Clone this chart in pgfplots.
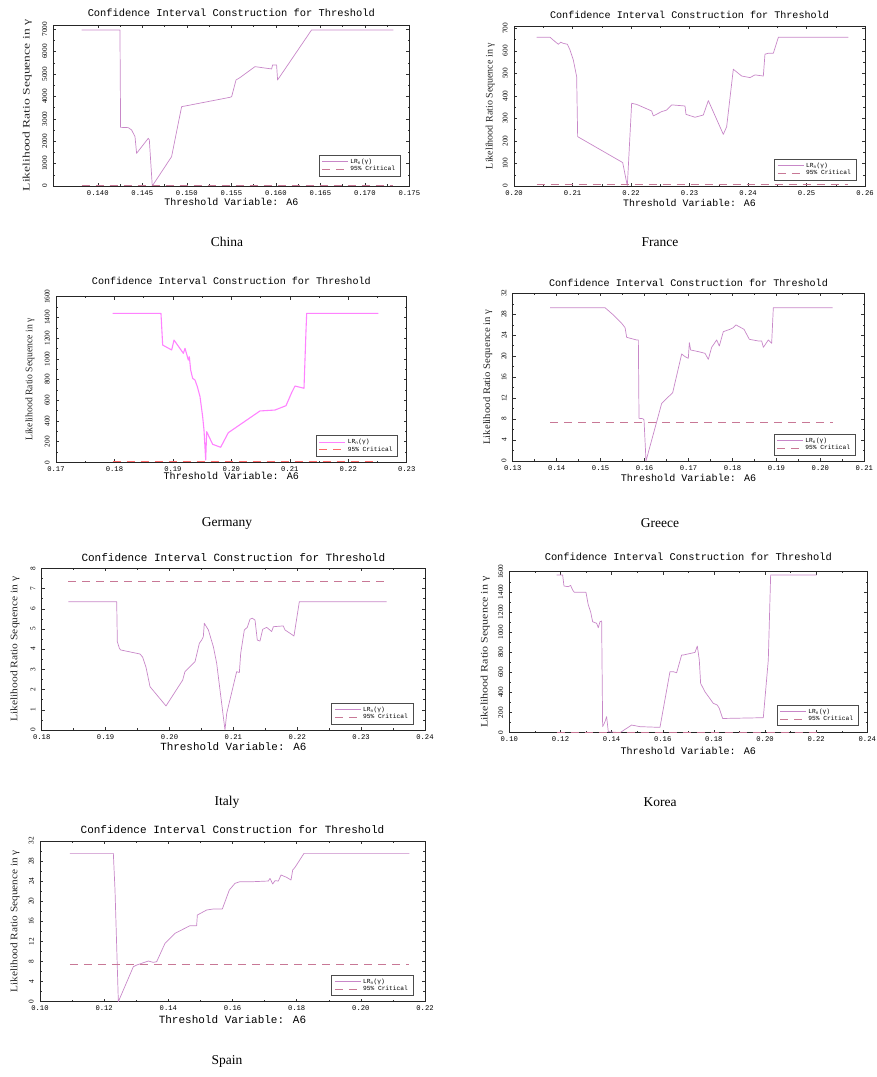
\documentclass[border=0pt]{standalone}
\usepackage{fontspec}
\setmainfont{Liberation Serif}
\newfontfamily\mono{Liberation Mono}
\usepackage{graphicx}
\usepackage{pgfplots}
\pgfplotsset{compat=1.18}

\definecolor{lineC}{RGB}{200,135,200}
\definecolor{critC}{RGB}{200,120,150}
\definecolor{gline}{RGB}{255,130,255}
\definecolor{gcrit}{RGB}{255,105,105}

\newcommand\ttl[1]{\mono\fontsize{#1}{#1}\selectfont}
\newcommand\xtk{\mono\fontsize{7.2}{8}\selectfont}
\newcommand\ytk{\fontsize{7.3}{8}\selectfont}
\newcommand\lgf{\mono\fontsize{6.2}{6.5}\selectfont}
\newcommand\ylf{\fontsize{10}{12}\selectfont}
\newcommand\ylab[1]{\scalebox{#1}[1]{Likelihood Ratio Sequence in γ}}

\pgfplotsset{
  gauss/.style={
    scale only axis, anchor=south west,
    axis line style={line width=0.75pt, black!85},
    tick align=inside, xtick pos=both, ytick pos=both,
    major tick length=3pt, minor tick length=1.6pt, minor tick num=1,
    every tick/.append style={line width=0.45pt, black!80},
    scaled ticks=false,
    /pgf/number format/assume math mode=true,
    /pgf/number format/1000 sep={},
    title style={font=\ttl{10.2}, at={(0.5,1)}, anchor=center, yshift=5.5pt},
    xlabel style={font=\ttl{10.2}, at={(0.5,0)}, anchor=center, yshift=-17pt},
    ylabel style={font=\ylf, anchor=center, black!85},
    xticklabel style={font=\xtk, inner sep=1pt},
    xticklabel shift=3pt,
    yticklabel style={font=\ytk, rotate=90, anchor=south, inner sep=1pt},
    yticklabel shift=5pt,
    legend style={font=\lgf, at={(1,0)}, anchor=south east, xshift=-9pt, yshift=8pt,
      draw=black!70, line width=0.4pt, inner xsep=3pt, inner ysep=1.5pt, row sep=-2.5pt, fill=white,
      /tikz/every even column/.append style={column sep=6pt}},
    legend cell align=left,
    legend image code/.code={\draw[#1] (0pt,0pt) -- (26pt,0pt);},
    title={Confidence Interval Construction for Threshold},
    xlabel={Threshold Variable: A6},
    xticklabel={\pgfmathprintnumber[fixed,fixed zerofill,precision=2]{\tick}},
  },
  lr/.style={lineC, line width=0.7pt, line join=round},
  crit/.style={critC, line width=0.7pt, dash pattern=on 8pt off 6pt},
  glr/.style={gline, line width=1.1pt, line join=round},
  gcr/.style={gcrit, line width=1.1pt, dash pattern=on 8pt off 6pt},
}

\begin{document}
\begin{tikzpicture}
\useasboundingbox (0,0) rectangle (877pt,1077pt);

% ---------------- China
\begin{axis}[gauss, at={(53.3pt,891pt)}, width=356pt, height=161pt,
  xmin=0.135, xmax=0.175, ymin=0, ymax=7190,
  xtick={0.140,0.145,0.150,0.155,0.160,0.165,0.170,0.175},
  xticklabel={\pgfmathprintnumber[fixed,fixed zerofill,precision=3]{\tick}},
  ytick={0,1000,2000,3000,4000,5000,6000,7000},
  title style={font=\ttl{10.4}, yshift=0.3pt},
  xlabel style={font=\ttl{10}, yshift=1pt},
  ylabel={\ylab{1.36}},
  ylabel style={at={(axis description cs:-0.073,0.5)}},
  legend style={yshift=2pt}]
\addplot[lr] coordinates {(0.13818,6970)(0.14249,6970)(0.14256,2620)(0.14343,2606)(0.1438,2500)(0.14418,2204)(0.14436,1459)(0.14567,2129)(0.14579,2060)(0.14612,0)(0.14829,1310)(0.14923,3171)(0.14942,3544)(0.14979,3570)(0.15485,3960)(0.15504,3990)(0.15553,4735)(0.15597,4840)(0.15766,5330)(0.15953,5226)(0.15964,5405)(0.16009,5405)(0.1602,4735)(0.16402,6970)(0.1732,6970)};
\addlegendentry{LR\textsubscript{n}(γ)}
\addplot[crit] coordinates {(0.13818,7.35)(0.1732,7.35)};
\addlegendentry{95\% Critical}
\end{axis}

% ---------------- France
\begin{axis}[gauss, at={(514pt,891pt)}, width=351pt, height=160pt,
  xmin=0.20, xmax=0.26, ymin=0, ymax=710,
  xtick={0.20,0.21,0.22,0.23,0.24,0.25,0.26},
  ytick={0,100,200,300,400,500,600,700},
  title style={font=\ttl{10.1}},
  xlabel style={font=\ttl{9.9}},
  ylabel={\ylab{1.0}},
  ylabel style={at={(axis description cs:-0.068,0.5)}},
  legend style={yshift=-2pt}]
\addplot[lr] coordinates {(0.20387,660)(0.20615,660)(0.20701,641)(0.20758,629)(0.20798,638)(0.20843,633)(0.20912,629)(0.20957,604)(0.21014,559)(0.21071,485)(0.21088,219)(0.21858,104)(0.21937,0)(0.22011,367)(0.22097,362)(0.22353,333)(0.22382,311)(0.22524,330)(0.2261,337)(0.22695,360)(0.22923,355)(0.2294,318)(0.23094,305)(0.23236,315)(0.23322,379)(0.23578,229)(0.23635,263)(0.23749,518)(0.23892,488)(0.24034,481)(0.2412,493)(0.24262,488)(0.2429,585)(0.24348,589)(0.24433,589)(0.24519,660)(0.25715,660)};
\addlegendentry{LR\textsubscript{n}(γ)}
\addplot[crit] coordinates {(0.20387,7.35)(0.25715,7.35)};
\addlegendentry{95\% Critical}
\end{axis}

% ---------------- Germany
\begin{axis}[gauss, at={(56pt,614.7pt)}, width=350.7pt, height=165.6pt,
  xmin=0.17, xmax=0.23, ymin=0, ymax=1600,
  xtick={0.17,0.18,0.19,0.20,0.21,0.22,0.23},
  ytick={0,200,400,600,800,1000,1200,1400,1600},
  title style={font=\ttl{10.1}, yshift=4.4pt},
  xlabel style={font=\ttl{10.1}, yshift=3pt},
  ylabel={\ylab{0.97}},
  ylabel style={at={(axis description cs:-0.074,0.5)}},
  legend style={yshift=-2pt}]
\addplot[glr] coordinates {(0.1797,1439)(0.18796,1439)(0.18825,1133)(0.18979,1085)(0.19019,1181)(0.19179,1053)(0.19207,1101)(0.19264,988)(0.19281,1020)(0.19304,892)(0.19338,811)(0.19378,795)(0.19418,731)(0.19464,634)(0.19509,441)(0.19532,312)(0.19561,23)(0.19578,296)(0.1968,174)(0.19817,145)(0.19948,286)(0.2049,496)(0.20747,505)(0.20935,547)(0.21032,673)(0.21089,737)(0.21243,715)(0.21277,1268)(0.21289,1439)(0.22515,1439)};
\addlegendentry{LR\textsubscript{n}(γ)}
\addplot[gcr] coordinates {(0.1797,7.35)(0.22515,7.35)};
\addlegendentry{95\% Critical}
\end{axis}

% ---------------- Greece
\begin{axis}[gauss, at={(512.7pt,616pt)}, width=351.6pt, height=167.7pt,
  xmin=0.13, xmax=0.21, ymin=0, ymax=32,
  xtick={0.13,0.14,0.15,0.16,0.17,0.18,0.19,0.20,0.21},
  ytick={0,4,8,12,16,20,24,28,32},
  title style={font=\ttl{10.1}, yshift=-1.4pt},
  xlabel style={font=\ttl{10.1}},
  ylabel={\ylab{1.07}},
  ylabel style={at={(axis description cs:-0.071,0.5)}},
  legend style={yshift=-2pt}]
\addplot[lr] coordinates {(0.13849,29.26)(0.151,29.26)(0.1529,27.87)(0.1548,26.27)(0.15556,25.45)(0.15593,23.6)(0.15821,23.09)(0.15859,23.09)(0.15874,8.14)(0.15957,8.08)(0.15988,7.83)(0.16033,0)(0.1639,11.0)(0.1664,13.04)(0.16845,20.42)(0.16921,19.91)(0.16996,19.6)(0.17019,22.58)(0.17049,21.18)(0.17224,20.87)(0.17375,20.55)(0.17451,19.4)(0.17527,21.69)(0.17641,23.09)(0.17701,21.94)(0.17792,24.68)(0.17944,25.13)(0.1802,25.45)(0.18081,25.96)(0.18263,25.13)(0.18384,23.22)(0.18589,22.9)(0.18665,22.9)(0.18703,21.69)(0.18816,23.09)(0.18892,22.45)(0.1893,29.26)(0.2028,29.26)};
\addlegendentry{LR\textsubscript{n}(γ)}
\addplot[crit] coordinates {(0.13849,7.35)(0.2028,7.35)};
\addlegendentry{95\% Critical}
\end{axis}

% ---------------- Italy
\begin{axis}[gauss, at={(41.7pt,347pt)}, width=383.3pt, height=161.7pt,
  xmin=0.18, xmax=0.24, ymin=0, ymax=8,
  xtick={0.18,0.19,0.20,0.21,0.22,0.23,0.24},
  ytick={0,1,2,3,4,5,6,7,8},
  title style={font=\ttl{11}, yshift=-0.7pt},
  xlabel style={font=\ttl{10.9}},
  ylabel={\ylab{1.15}},
  ylabel style={at={(axis description cs:-0.070,0.5)}},
  legend style={yshift=-2pt, xshift=-3pt}]
\addplot[lr] coordinates {(0.18417,6.35)(0.19174,6.35)(0.19184,4.37)(0.19216,4.04)(0.19236,3.96)(0.19539,3.76)(0.19581,3.6)(0.19633,3.1)(0.19696,2.14)(0.19946,1.19)(0.20207,2.47)(0.20243,2.89)(0.20374,3.3)(0.204,3.38)(0.20468,4.29)(0.20504,4.45)(0.2053,4.62)(0.20546,5.28)(0.20609,4.95)(0.20687,4.12)(0.20739,3.3)(0.20869,0)(0.20896,0.82)(0.21052,2.89)(0.21094,2.84)(0.21115,3.79)(0.21172,4.95)(0.21219,5.08)(0.2126,5.48)(0.21297,5.53)(0.21339,5.44)(0.21375,4.45)(0.21417,4.4)(0.21459,4.98)(0.21522,5.08)(0.216,4.87)(0.21626,5.11)(0.21782,5.15)(0.21808,4.95)(0.21913,4.73)(0.21949,4.65)(0.22033,6.35)(0.234,6.35)};
\addlegendentry{LR\textsubscript{n}(γ)}
\addplot[crit] coordinates {(0.18417,7.35)(0.234,7.35)};
\addlegendentry{95\% Critical}
\end{axis}

% ---------------- Korea
\begin{axis}[gauss, at={(509.3pt,344.3pt)}, width=358pt, height=161pt,
  xmin=0.10, xmax=0.24, ymin=0, ymax=1600,
  xtick={0.10,0.12,0.14,0.16,0.18,0.20,0.22,0.24},
  ytick={0,200,400,600,800,1000,1200,1400,1600},
  title style={font=\ttl{10.4}, yshift=3.7pt},
  xlabel style={font=\ttl{10.1}, yshift=-1pt},
  ylabel={\ylab{1.2}},
  ylabel style={at={(axis description cs:-0.067,0.5)}},
  legend style={yshift=-1pt}]
\addplot[lr] coordinates {(0.11851,1567)(0.12086,1567)(0.12138,1458)(0.12307,1451)(0.12398,1464)(0.12477,1418)(0.12542,1395)(0.12998,1395)(0.13089,1269)(0.1318,1202)(0.13259,1103)(0.13415,1087)(0.1348,1043)(0.13546,1103)(0.13611,1110)(0.1365,60)(0.13741,109)(0.13806,159)(0.13871,10)(0.14328,0)(0.14784,76)(0.1511,60)(0.15892,53)(0.16283,606)(0.16413,606)(0.16544,596)(0.16739,772)(0.16804,772)(0.17261,798)(0.17352,861)(0.1743,722)(0.17482,490)(0.17652,407)(0.17977,292)(0.18134,275)(0.18212,242)(0.18342,142)(0.18499,142)(0.19933,149)(0.20128,722)(0.2022,1567)(0.22018,1567)};
\addlegendentry{LR\textsubscript{n}(γ)}
\addplot[crit] coordinates {(0.11851,7.35)(0.22018,7.35)};
\addlegendentry{95\% Critical}
\end{axis}

% ---------------- Spain
\begin{axis}[gauss, at={(40pt,75.3pt)}, width=385pt, height=160.7pt,
  xmin=0.10, xmax=0.22, ymin=0, ymax=32,
  xtick={0.10,0.12,0.14,0.16,0.18,0.20,0.22},
  ytick={0,4,8,12,16,20,24,28,32},
  title style={font=\ttl{11}, yshift=-0.3pt},
  xlabel style={font=\ttl{11}, yshift=-1pt},
  ylabel={\ylab{1.13}},
  ylabel style={at={(axis description cs:-0.065,0.5)}},
  legend style={yshift=-2pt, xshift=-3pt}]
\addplot[lr] coordinates {(0.10935,29.54)(0.12286,29.54)(0.12338,22.2)(0.12442,0)(0.12909,6.97)(0.13013,7.3)(0.13377,8.1)(0.13533,7.83)(0.13637,7.97)(0.13896,11.62)(0.14208,13.61)(0.14676,15.14)(0.14883,15.14)(0.14904,17.26)(0.15195,18.26)(0.15403,18.46)(0.15683,18.46)(0.15901,22.24)(0.16078,23.57)(0.16234,23.9)(0.1665,23.9)(0.17117,24.03)(0.17169,24.56)(0.17252,23.44)(0.17325,24.1)(0.17429,24.03)(0.17512,25.23)(0.17689,24.76)(0.17824,24.23)(0.17876,26.22)(0.17948,26.75)(0.18229,29.54)(0.21512,29.54)};
\addlegendentry{LR\textsubscript{n}(γ)}
\addplot[crit] coordinates {(0.10935,7.35)(0.21512,7.35)};
\addlegendentry{95\% Critical}
\end{axis}

% ---------------- captions
\begin{scope}[every node/.style={font=\fontsize{13.5}{15}\selectfont, inner sep=0pt, anchor=center}]
\node at (227pt,835pt) {China};
\node at (660pt,835pt) {France};
\node at (227pt,554pt) {Germany};
\node at (660pt,554pt) {Greece};
\node at (227pt,275pt) {Italy};
\node at (660pt,275pt) {Korea};
\node at (227pt,16pt) {Spain};
\end{scope}
\end{tikzpicture}
\end{document}
